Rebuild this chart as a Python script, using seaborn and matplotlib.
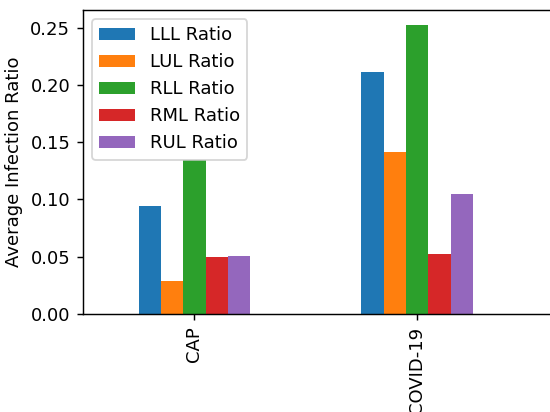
import pandas as pd
import seaborn as sns
import matplotlib.pyplot as plt

# average infection ratio per lung lobe
groups = ["CAP", "COVID-19"]
lobes = ["LLL Ratio", "LUL Ratio", "RLL Ratio", "RML Ratio", "RUL Ratio"]
cap_vals = [0.0945, 0.0285, 0.1346, 0.0497, 0.0503]
covid_vals = [0.2116, 0.1416, 0.2523, 0.0526, 0.1044]

df = pd.DataFrame({
    "Group": [groups[0]] * len(lobes) + [groups[1]] * len(lobes),
    "Lobe": lobes * 2,
    "Ratio": cap_vals + covid_vals,
})

plt.rcParams["font.family"] = ["DejaVu Sans"]
plt.rcParams["font.size"] = 10

fig = plt.figure(figsize=(550 / 130, 412 / 130), dpi=130)
# the reference is cropped on the right, so the axes run past the edge
ax = fig.add_axes([83 / 550, 1 - 314 / 412, 490 / 550, 304 / 412])

sns.barplot(data=df, x="Group", y="Ratio", hue="Lobe", order=groups,
            hue_order=lobes, palette="tab10", saturation=1, width=0.5,
            linewidth=0, errorbar=None, ax=ax)

ax.set_xlim(-0.5, 1.7)
ax.set_ylim(0, max(covid_vals) * 1.052)
ax.set_yticks([0, 0.05, 0.10, 0.15, 0.20, 0.25])
ax.set_yticklabels(["0.00", "0.05", "0.10", "0.15", "0.20", "0.25"])
ax.set_xlabel("")
ax.set_ylabel("Average Infection Ratio")
ax.tick_params(axis="x", rotation=90)
ax.spines["right"].set_visible(False)
ax.legend(loc="upper left")

fig.savefig("out.png", dpi=130)
